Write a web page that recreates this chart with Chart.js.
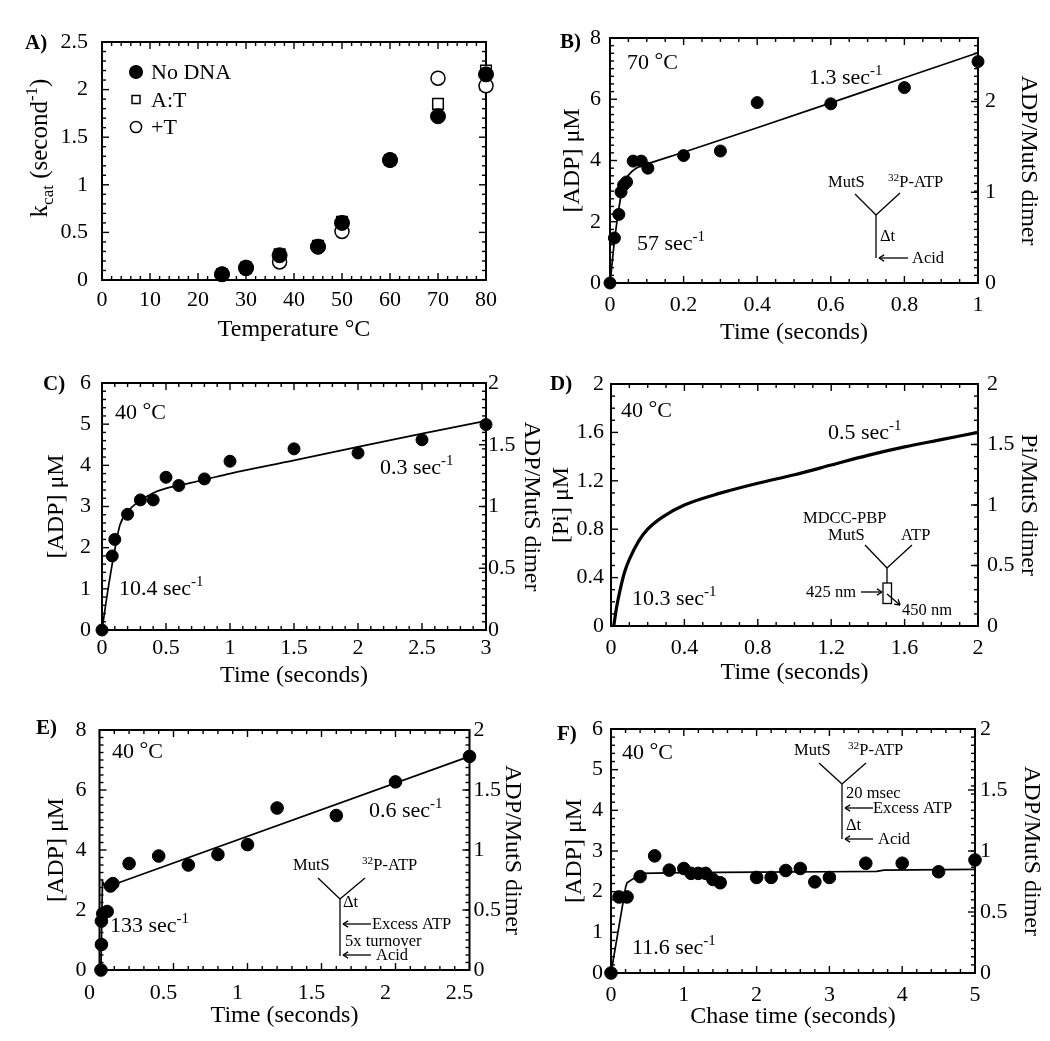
<!DOCTYPE html>
<html><head><meta charset="utf-8">
<script src="https://cdn.jsdelivr.net/npm/chart.js@4.4.1/dist/chart.umd.min.js"></script>
<style>
html,body{margin:0;padding:0;background:#fff;}
#wrap{position:relative;width:1050px;height:1041px;overflow:hidden;background:#fff;}
canvas{position:absolute;left:0;top:0;}
</style></head><body><div id="wrap">
<canvas id="cA" width="1050" height="1041"></canvas>
<canvas id="cB" width="1050" height="1041"></canvas>
<canvas id="cC" width="1050" height="1041"></canvas>
<canvas id="cD" width="1050" height="1041"></canvas>
<canvas id="cE" width="1050" height="1041"></canvas>
<canvas id="cF" width="1050" height="1041"></canvas>
</div>
<script>
// ---------- Panel A: kcat vs temperature ----------
const aTemp   = [25, 30, 37, 45, 50, 60, 70, 80];
const aNoDNA  = [0.06, 0.13, 0.26, 0.35, 0.60, 1.26, 1.72, 2.16];
const aAT     = [0.06, 0.13, 0.27, 0.36, 0.61, 1.26, 1.85, 2.20];
const aPlusT  = [0.06, 0.12, 0.19, 0.35, 0.51, 1.26, 2.12, 2.04];
const aXTicks = [0, 10, 20, 30, 40, 50, 60, 70, 80];
const aYTicks = [0, 0.5, 1, 1.5, 2, 2.5];

// ---------- Panel B: 70 C, ADP burst ----------
const bTime    = [0, 0.012, 0.024, 0.03, 0.037, 0.045, 0.063, 0.085, 0.103, 0.2, 0.3, 0.4, 0.6, 0.8, 1.0];
const bADP     = [0, 1.47, 2.24, 2.97, 3.2, 3.3, 3.98, 3.98, 3.75, 4.16, 4.31, 5.89, 5.85, 6.38, 7.23];
const bFitTime = [0, 0.005, 0.01, 0.02, 0.03, 0.04, 0.05, 0.07, 0.1, 0.2, 0.4, 0.6, 0.8, 1.0];
const bFitADP  = [0, 0.55, 1.15, 2.1, 2.85, 3.3, 3.52, 3.74, 3.88, 4.27, 5.07, 5.88, 6.7, 7.52];
const bXTicks  = [0, 0.2, 0.4, 0.6, 0.8, 1];
const bYTicks  = [0, 2, 4, 6, 8];
const bY2Ticks = [0, 1, 2];

// ---------- Panel C: 40 C, ADP burst ----------
const cTime    = [0, 0.08, 0.1, 0.2, 0.3, 0.4, 0.5, 0.6, 0.8, 1.0, 1.5, 2.0, 2.5, 3.0];
const cADP     = [0, 1.8, 2.2, 2.81, 3.16, 3.16, 3.71, 3.51, 3.67, 4.1, 4.4, 4.3, 4.62, 4.99];
const cFitTime = [0, 0.05, 0.1, 0.14, 0.2, 0.3, 0.4, 0.5, 0.6, 0.8, 1.0, 1.5, 2.0, 2.5, 3.0];
const cFitADP  = [0, 1.05, 1.95, 2.55, 2.87, 3.15, 3.33, 3.44, 3.51, 3.65, 3.8, 4.12, 4.45, 4.77, 5.08];
const cXTicks  = [0, 0.5, 1, 1.5, 2, 2.5, 3];
const cYTicks  = [0, 1, 2, 3, 4, 5, 6];
const cY2Ticks = [0, 0.5, 1, 1.5, 2];

// ---------- Panel D: Pi release trace ----------
const dTime    = [0.015, 0.03, 0.05, 0.075, 0.1, 0.15, 0.2, 0.28, 0.4, 0.6, 0.8, 1.0, 1.2, 1.4, 1.6, 1.8, 2.0];
const dPi      = [0, 0.15, 0.3, 0.45, 0.55, 0.7, 0.8, 0.9, 1.0, 1.1, 1.18, 1.25, 1.33, 1.41, 1.48, 1.54, 1.6];
const dXTicks  = [0, 0.4, 0.8, 1.2, 1.6, 2];
const dYTicks  = [0, 0.4, 0.8, 1.2, 1.6, 2];
const dY2Ticks = [0, 0.5, 1, 1.5, 2];

// ---------- Panel E: 40 C, excess ATP chase ----------
const eTime    = [0.01, 0.013, 0.013, 0.022, 0.052, 0.074, 0.09, 0.2, 0.4, 0.6, 0.8, 1.0, 1.2, 1.6, 2.0, 2.5];
const eADP     = [0, 0.85, 1.63, 1.88, 1.95, 2.8, 2.88, 3.55, 3.8, 3.5, 3.85, 4.18, 5.4, 5.15, 6.27, 7.12];
const eFitTime = [0.01, 0.02, 0.04, 2.5];
const eFitADP  = [0, 2.95, 2.75, 7.12];
const eXTicks  = [0, 0.5, 1, 1.5, 2, 2.5];
const eYTicks  = [0, 2, 4, 6, 8];
const eY2Ticks = [0, 0.5, 1, 1.5, 2];

// ---------- Panel F: chase time ----------
const fTime    = [0, 0.11, 0.22, 0.4, 0.6, 0.8, 1.0, 1.1, 1.2, 1.3, 1.4, 1.5, 2.0, 2.2, 2.4, 2.6, 2.8, 3.0, 3.5, 4.0, 4.5, 5.0];
const fADP     = [0, 1.87, 1.87, 2.37, 2.88, 2.53, 2.57, 2.45, 2.45, 2.45, 2.3, 2.22, 2.35, 2.35, 2.52, 2.57, 2.24, 2.35, 2.7, 2.7, 2.49, 2.78];
const fFitTime = [0, 0.2, 0.22, 0.42, 1.0, 2.0, 3.0, 3.65, 3.75, 5.0];
const fFitADP  = [0, 2.1, 2.22, 2.45, 2.47, 2.48, 2.49, 2.5, 2.53, 2.55];
const fXTicks  = [0, 1, 2, 3, 4, 5];
const fYTicks  = [0, 1, 2, 3, 4, 5, 6];
const fY2Ticks = [0, 0.5, 1, 1.5, 2];

// ---------- helpers ----------
const SERIF = "'Liberation Serif','Times New Roman',Times,serif";
const W = 1050, H = 1041;
const TK = 22, TS = 24, MAJ = 7, MIN = 4;
const pts = (xs, ys) => xs.map((x, i) => ({x: x, y: ys[i]}));

function rich(ctx, x, y, parts, size, align, bold) {
  const b = bold ? 'bold ' : '';
  const specs = parts.map(([t, k]) => {
    let s = size, dy = 0;
    if (k === 'sup') { s = size * 0.68; dy = -size * 0.40; }
    else if (k === 'sub') { s = size * 0.68; dy = size * 0.22; }
    else if (k === 'deg') { dy = -size * 0.1; }
    return {t, s, dy};
  });
  let w = 0;
  specs.forEach(p => { ctx.font = b + p.s + 'px ' + SERIF; p.w = ctx.measureText(p.t).width; w += p.w; });
  let cx = align === 'center' ? x - w / 2 : x;
  const base = y + size * 0.33;
  ctx.save();
  ctx.fillStyle = '#000'; ctx.textBaseline = 'alphabetic'; ctx.textAlign = 'left';
  specs.forEach(p => { ctx.font = b + p.s + 'px ' + SERIF; ctx.fillText(p.t, cx, base + p.dy); cx += p.w; });
  ctx.restore();
}
function seg(ctx, x1, y1, x2, y2, w) {
  ctx.save(); ctx.strokeStyle = '#000'; ctx.lineWidth = w || 1.3;
  ctx.beginPath(); ctx.moveTo(x1, y1); ctx.lineTo(x2, y2); ctx.stroke(); ctx.restore();
}
function arrow(ctx, x1, y1, x2, y2) {
  seg(ctx, x1, y1, x2, y2);
  const a = Math.atan2(y2 - y1, x2 - x1), h = 6;
  seg(ctx, x2, y2, x2 - h * Math.cos(a - 0.55), y2 - h * Math.sin(a - 0.55));
  seg(ctx, x2, y2, x2 - h * Math.cos(a + 0.55), y2 - h * Math.sin(a + 0.55));
}
function sec(ctx, x, y, num) { rich(ctx, x, y, [[num + ' sec', ''], ['-1', 'sup']], 22); }
function deg(ctx, x, y, t) { rich(ctx, x, y, [[t + ' ', ''], ['°', 'deg'], ['C', '']], 22); }
function lab(ctx, x, y, t) { rich(ctx, x, y, [[t, '']], 21, 'left', true); }
function small(ctx, x, y, parts) { rich(ctx, x, y, parts, 16.5); }

function decoPlugin(p) {
  return {
    id: 'deco',
    beforeDatasetsDraw(chart) {
      const {ctx, chartArea: a, scales} = chart;
      const xs = scales.x, ys = scales.y, y2 = scales.y2;
      const steps = (min, max, st) => { const n = Math.round((max - min) / st); const o = []; for (let i = 0; i <= n; i++) o.push(min + i * st); return o; };
      const isMaj = (v, arr) => arr.some(m => Math.abs(m - v) < 1e-6);
      ctx.save();
      for (const v of steps(xs.min, xs.max, p.x.minor)) {
        const px = xs.getPixelForValue(v);
        const L = isMaj(v, p.x.ticks) ? MAJ : MIN;
        seg(ctx, px, a.bottom, px, a.bottom - L, 1.4);
        seg(ctx, px, a.top, px, a.top + L, 1.4);
      }
      for (const v of steps(ys.min, ys.max, p.y.minor)) {
        const py = ys.getPixelForValue(v);
        const L = isMaj(v, p.y.ticks) ? MAJ : MIN;
        seg(ctx, a.left, py, a.left + L, py, 1.4);
        seg(ctx, a.right, py, a.right - (y2 ? MIN : L), py, 1.4);
      }
      if (y2) for (const v of p.y2.ticks) { const py = y2.getPixelForValue(v); seg(ctx, a.right, py, a.right - MAJ, py, 1.4); }
      ctx.strokeStyle = '#000'; ctx.lineWidth = 2;
      ctx.strokeRect(a.left, a.top, a.right - a.left, a.bottom - a.top);
      ctx.restore();
    },
    afterDraw(chart) { if (p.annotate) p.annotate(chart.ctx, chart); }
  };
}

function axisCfg(ax, pos, size) {
  return {
    type: 'linear', position: pos, min: ax.min, max: ax.max,
    afterBuildTicks: s => { s.ticks = ax.ticks.map(v => ({value: v})); },
    afterFit: s => { if (pos === 'bottom') s.height = size; else s.width = size; },
    grid: {display: false, drawTicks: false, drawOnChartArea: false},
    border: {display: false},
    ticks: {color: '#000', font: {family: SERIF, size: TK, lineHeight: 1}, padding: ax.pad,
            autoSkip: false, maxRotation: 0, minRotation: 0, labelOffset: ax.labelOffset || 0,
            callback: v => String(v)},
    title: ax.title ? {display: true, text: ax.title, color: '#000',
            font: {family: SERIF, size: TS, lineHeight: 1}, padding: {top: 0, bottom: 0}} : {display: false}
  };
}

function makePanel(id, p) {
  const leftW = p.leftW != null ? p.leftW : (p.l - (p.y.titleX - TS / 2));
  const bottomH = p.x.titleY + TS / 2 - p.b;
  const rightW = p.y2 ? (p.y2.titleX + TS / 2 - p.r) : 0;
  const scales = {x: axisCfg(p.x, 'bottom', bottomH), y: axisCfg(p.y, 'left', leftW)};
  if (p.y2) scales.y2 = axisCfg(p.y2, 'right', rightW);
  return new Chart(document.getElementById(id), {
    type: 'scatter',
    data: {datasets: p.datasets},
    options: {
      responsive: false, animation: false, events: [],
      layout: {padding: {left: p.l - leftW, right: W - p.r - rightW, top: p.t, bottom: H - p.b - bottomH}},
      plugins: {legend: {display: false}, tooltip: {enabled: false}},
      scales: scales
    },
    plugins: [decoPlugin(p)]
  });
}
const dots = (xs, ys, r) => ({data: pts(xs, ys), pointStyle: 'circle', pointRadius: r || 6, backgroundColor: '#000', borderColor: '#000', borderWidth: 1, showLine: false, clip: false});
const fit = (xs, ys, smooth, w) => ({data: pts(xs, ys), showLine: true, pointRadius: 0, borderColor: '#000', borderWidth: w || 1.7, fill: false, cubicInterpolationMode: smooth ? 'monotone' : 'default', tension: 0, clip: false});

// ---------- A ----------
makePanel('cA', {
  l: 102, r: 486, t: 42, b: 280, leftW: 102,
  x: {min: 0, max: 80, ticks: aXTicks, minor: 2, pad: 9, title: 'Temperature °C', titleY: 330},
  y: {min: 0, max: 2.5, ticks: aYTicks, minor: 0.1, pad: 14, title: null},
  datasets: [
    {label: 'No DNA', data: pts(aTemp, aNoDNA), pointStyle: 'circle', pointRadius: 7.5, backgroundColor: '#000', borderColor: '#000', borderWidth: 1, clip: false},
    {label: 'A:T', data: pts(aTemp, aAT), pointStyle: 'rect', pointRadius: 7.5, backgroundColor: '#fff', borderColor: '#000', borderWidth: 1.5, clip: false},
    {label: '+T', data: pts(aTemp, aPlusT), pointStyle: 'circle', pointRadius: 7, backgroundColor: '#fff', borderColor: '#000', borderWidth: 1.5, clip: false}
  ],
  annotate(ctx, chart) {
    lab(ctx, 25, 42, 'A)');
    ctx.save(); ctx.translate(39, 148); ctx.rotate(-Math.PI / 2);
    rich(ctx, 0, 0, [['k', ''], ['cat', 'sub'], [' (second', ''], ['-1', 'sup'], [')', '']], 25, 'center');
    ctx.restore();
    chart.data.datasets.forEach((d, i) => {
      const y = 72 + i * 27.5, x = 136;
      ctx.save(); ctx.fillStyle = d.backgroundColor; ctx.strokeStyle = d.borderColor; ctx.lineWidth = 1.5;
      if (d.pointStyle === 'rect') { ctx.fillRect(x - 4, y - 4, 8, 8); ctx.strokeRect(x - 4, y - 4, 8, 8); }
      else { ctx.beginPath(); ctx.arc(x, y, d.backgroundColor === '#000' ? 6.3 : 5.6, 0, Math.PI * 2); ctx.fill(); ctx.stroke(); }
      ctx.restore();
      rich(ctx, 151, y, [[d.label, '']], 22);
    });
  }
});

// ---------- B ----------
makePanel('cB', {
  l: 610, r: 978, t: 38, b: 283,
  x: {min: 0, max: 1, ticks: bXTicks, minor: 0.05, pad: 11, title: 'Time (seconds)', titleY: 333},
  y: {min: 0, max: 8, ticks: bYTicks, minor: 0.25, pad: 9, title: '[ADP] μM', titleX: 573},
  y2: {min: 0, max: 2.7, ticks: bY2Ticks, pad: 7, title: 'ADP/MutS dimer', titleX: 1028},
  datasets: [dots(bTime, bADP), fit(bFitTime, bFitADP, true)],
  annotate(ctx) {
    lab(ctx, 560, 41, 'B)');
    deg(ctx, 627, 62, '70');
    sec(ctx, 809, 77, '1.3');
    sec(ctx, 637, 243, '57');
    small(ctx, 828, 182, [['MutS', '']]);
    small(ctx, 888, 182, [['32', 'sup'], ['P-ATP', '']]);
    seg(ctx, 855, 194, 876, 215); seg(ctx, 900, 193, 876, 215); seg(ctx, 876, 215, 876, 258);
    small(ctx, 880, 236, [['Δt', '']]);
    arrow(ctx, 908, 258, 879, 258);
    small(ctx, 912, 258, [['Acid', '']]);
  }
});

// ---------- C ----------
makePanel('cC', {
  l: 102, r: 486, t: 383, b: 630,
  x: {min: 0, max: 3, ticks: cXTicks, minor: 0.1, pad: 7, title: 'Time (seconds)', titleY: 676},
  y: {min: 0, max: 6, ticks: cYTicks, minor: 0.2, pad: 11, title: '[ADP] μM', titleX: 57},
  y2: {min: 0, max: 2, ticks: cY2Ticks, pad: 2, title: 'ADP/MutS dimer', titleX: 531},
  datasets: [dots(cTime, cADP), fit(cFitTime, cFitADP, true)],
  annotate(ctx) {
    lab(ctx, 43, 383, 'C)');
    deg(ctx, 115, 412, '40');
    sec(ctx, 380, 467, '0.3');
    sec(ctx, 119, 588, '10.4');
  }
});

// ---------- D ----------
makePanel('cD', {
  l: 611, r: 978, t: 384, b: 626,
  x: {min: 0, max: 2, ticks: dXTicks, minor: 0.1, pad: 11, title: 'Time (seconds)', titleY: 673},
  y: {min: 0, max: 2, ticks: dYTicks, minor: 0.1, pad: 7, title: '[Pi] μM', titleX: 562},
  y2: {min: 0, max: 2, ticks: dY2Ticks, pad: 9, title: 'Pi/MutS dimer', titleX: 1028},
  datasets: [fit(dTime, dPi, true, 3.2)],
  annotate(ctx) {
    lab(ctx, 550, 383, 'D)');
    deg(ctx, 621, 410, '40');
    sec(ctx, 828, 432, '0.5');
    sec(ctx, 632, 598, '10.3');
    small(ctx, 803, 518, [['MDCC-PBP', '']]);
    small(ctx, 828, 535, [['MutS', '']]);
    small(ctx, 901, 535, [['ATP', '']]);
    seg(ctx, 865, 545, 887, 568); seg(ctx, 912, 545, 887, 568); seg(ctx, 887, 568, 887, 583);
    ctx.save(); ctx.strokeStyle = '#000'; ctx.lineWidth = 1.3; ctx.strokeRect(883, 583, 8.5, 20.5); ctx.restore();
    small(ctx, 806, 592, [['425 nm', '']]);
    arrow(ctx, 861, 592, 882, 592);
    arrow(ctx, 887, 594, 900, 605);
    small(ctx, 902, 610, [['450 nm', '']]);
  }
});

// ---------- E ----------
makePanel('cE', {
  l: 99.5, r: 469.5, t: 730, b: 970,
  x: {min: 0, max: 2.5, ticks: eXTicks, minor: 0.1, pad: 12, labelOffset: -10, title: 'Time (seconds)', titleY: 1016},
  y: {min: 0, max: 8, ticks: eYTicks, minor: 0.25, pad: 13, title: '[ADP] μM', titleX: 57},
  y2: {min: 0, max: 2, ticks: eY2Ticks, pad: 4, title: 'ADP/MutS dimer', titleX: 512},
  datasets: [dots(eTime, eADP, 6.3), fit(eFitTime, eFitADP, false)],
  annotate(ctx) {
    lab(ctx, 36, 727, 'E)');
    deg(ctx, 112, 751, '40');
    sec(ctx, 369, 810, '0.6');
    sec(ctx, 110, 925, '133');
    small(ctx, 293, 865, [['MutS', '']]);
    small(ctx, 362, 865, [['32', 'sup'], ['P-ATP', '']]);
    seg(ctx, 318, 878, 340, 899); seg(ctx, 365, 878, 340, 899); seg(ctx, 340, 899, 340, 956);
    small(ctx, 343, 902, [['Δt', '']]);
    arrow(ctx, 371, 924, 343, 924);
    small(ctx, 372, 924, [['Excess ATP', '']]);
    small(ctx, 345, 941, [['5x turnover', '']]);
    arrow(ctx, 371, 955, 343, 955);
    small(ctx, 376, 955, [['Acid', '']]);
  }
});

// ---------- F ----------
makePanel('cF', {
  l: 611, r: 975, t: 729, b: 973,
  x: {min: 0, max: 5, ticks: fXTicks, minor: 0.2, pad: 11, title: 'Chase time (seconds)', titleY: 1017},
  y: {min: 0, max: 6, ticks: fYTicks, minor: 0.2, pad: 8, title: '[ADP] μM', titleX: 575},
  y2: {min: 0, max: 2, ticks: fY2Ticks, pad: 5, title: 'ADP/MutS dimer', titleX: 1031},
  datasets: [dots(fTime, fADP, 6.3), fit(fFitTime, fFitADP, false)],
  annotate(ctx) {
    lab(ctx, 557, 733, 'F)');
    deg(ctx, 622, 752, '40');
    sec(ctx, 632, 947, '11.6');
    small(ctx, 794, 750, [['MutS', '']]);
    small(ctx, 848, 750, [['32', 'sup'], ['P-ATP', '']]);
    seg(ctx, 819, 763, 842, 784); seg(ctx, 866, 763, 842, 784); seg(ctx, 842, 784, 842, 839);
    small(ctx, 846, 793, [['20 msec', '']]);
    arrow(ctx, 873, 808, 845, 808);
    small(ctx, 873, 808, [['Excess ATP', '']]);
    small(ctx, 846, 825, [['Δt', '']]);
    arrow(ctx, 873, 839, 845, 839);
    small(ctx, 878, 839, [['Acid', '']]);
  }
});
</script>
</body></html>
